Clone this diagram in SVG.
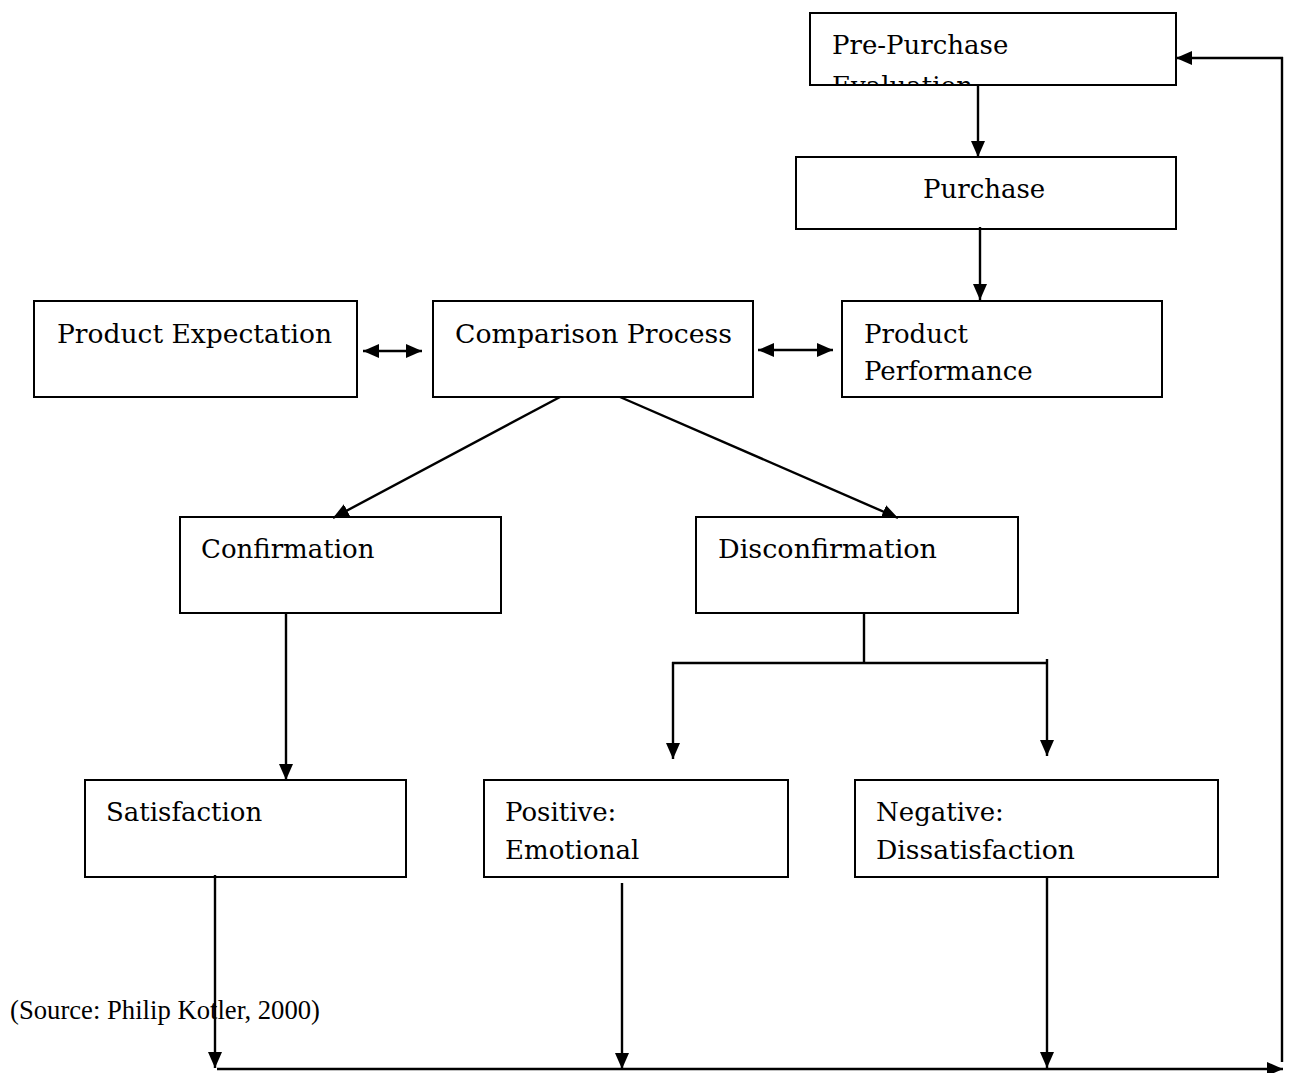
<svg xmlns="http://www.w3.org/2000/svg" width="1290" height="1073" viewBox="0 0 1290 1073">
<style>
.box{fill:#fff;stroke:#000;stroke-width:2}
.t{font-family:"DejaVu Serif","Liberation Serif",serif;font-size:26px;fill:#000}
.src{font-family:"Liberation Serif","Times New Roman",serif;font-size:27px;fill:#000}
.c{fill:none;stroke:#000;stroke-width:2.4}
</style>
<defs>
<marker id="a" viewBox="0 0 16 14" refX="16" refY="7" markerWidth="16" markerHeight="14" orient="auto" markerUnits="userSpaceOnUse">
<path d="M0,0 L16,7 L0,14 z" fill="#000"/>
</marker>
<marker id="as" viewBox="0 0 16 14" refX="0" refY="7" markerWidth="16" markerHeight="14" orient="auto" markerUnits="userSpaceOnUse">
<path d="M16,0 L0,7 L16,14 z" fill="#000"/>
</marker>
<clipPath id="clipPre"><rect x="811" y="14" width="364" height="70"/></clipPath>
</defs>
<rect width="1290" height="1073" fill="#fff"/>

<g id="pre-purchase">
<rect class="box" x="810" y="13" width="366" height="72"/>
<g clip-path="url(#clipPre)">
<text class="t" x="832" y="54">Pre-Purchase</text>
<text class="t" x="832" y="95">Evaluation</text>
</g>
</g>
<g id="purchase">
<rect class="box" x="796" y="157" width="380" height="72"/>
<text class="t" x="923" y="198">Purchase</text>
</g>
<g id="product-expectation">
<rect class="box" x="34" y="301" width="323" height="96"/>
<text class="t" x="57" y="343" textLength="275" lengthAdjust="spacingAndGlyphs">Product Expectation</text>
</g>
<g id="comparison-process">
<rect class="box" x="433" y="301" width="320" height="96"/>
<text class="t" x="455" y="343" textLength="277" lengthAdjust="spacingAndGlyphs">Comparison Process</text>
</g>
<g id="product-performance">
<rect class="box" x="842" y="301" width="320" height="96"/>
<text class="t" x="864" y="343">Product</text>
<text class="t" x="864" y="380">Performance</text>
</g>
<g id="confirmation">
<rect class="box" x="180" y="517" width="321" height="96"/>
<text class="t" x="201" y="558">Confirmation</text>
</g>
<g id="disconfirmation">
<rect class="box" x="696" y="517" width="322" height="96"/>
<text class="t" x="718" y="558" textLength="219" lengthAdjust="spacingAndGlyphs">Disconfirmation</text>
</g>
<g id="satisfaction">
<rect class="box" x="85" y="780" width="321" height="97"/>
<text class="t" x="106" y="821">Satisfaction</text>
</g>
<g id="positive-emotional">
<rect class="box" x="484" y="780" width="304" height="97"/>
<text class="t" x="505" y="821">Positive:</text>
<text class="t" x="505" y="859">Emotional</text>
</g>
<g id="negative-dissatisfaction">
<rect class="box" x="855" y="780" width="363" height="97"/>
<text class="t" x="876" y="821">Negative:</text>
<text class="t" x="876" y="859" textLength="199" lengthAdjust="spacingAndGlyphs">Dissatisfaction</text>
</g>

<text id="source" class="src" x="10" y="1019" textLength="310" lengthAdjust="spacingAndGlyphs">(Source: Philip Kotler, 2000)</text>

<g id="connectors">
<line class="c" x1="978" y1="85" x2="978" y2="157" marker-end="url(#a)"/>
<line class="c" x1="980" y1="227" x2="980" y2="300" marker-end="url(#a)"/>
<line class="c" x1="363" y1="351" x2="422" y2="351" marker-start="url(#as)" marker-end="url(#a)"/>
<line class="c" x1="758" y1="350" x2="833" y2="350" marker-start="url(#as)" marker-end="url(#a)"/>
<line class="c" x1="560" y1="397" x2="333" y2="518" marker-end="url(#a)"/>
<line class="c" x1="620" y1="397" x2="898" y2="518" marker-end="url(#a)"/>
<line class="c" x1="286" y1="613" x2="286" y2="780" marker-end="url(#a)"/>
<line class="c" x1="864" y1="613" x2="864" y2="662"/>
<line class="c" x1="672" y1="663" x2="1047" y2="663"/>
<line class="c" x1="673" y1="662" x2="673" y2="759" marker-end="url(#a)"/>
<line class="c" x1="1047" y1="659" x2="1047" y2="756" marker-end="url(#a)"/>
<line class="c" x1="215" y1="875" x2="215" y2="1068" marker-end="url(#a)"/>
<line class="c" x1="622" y1="883" x2="622" y2="1069" marker-end="url(#a)"/>
<line class="c" x1="1047" y1="877" x2="1047" y2="1068" marker-end="url(#a)"/>
<line class="c" x1="217" y1="1069" x2="1283" y2="1069" marker-end="url(#a)"/>
<line class="c" x1="1282" y1="1062" x2="1282" y2="57"/>
<line class="c" x1="1283" y1="58" x2="1176" y2="58" marker-end="url(#a)"/>
</g>
</svg>
